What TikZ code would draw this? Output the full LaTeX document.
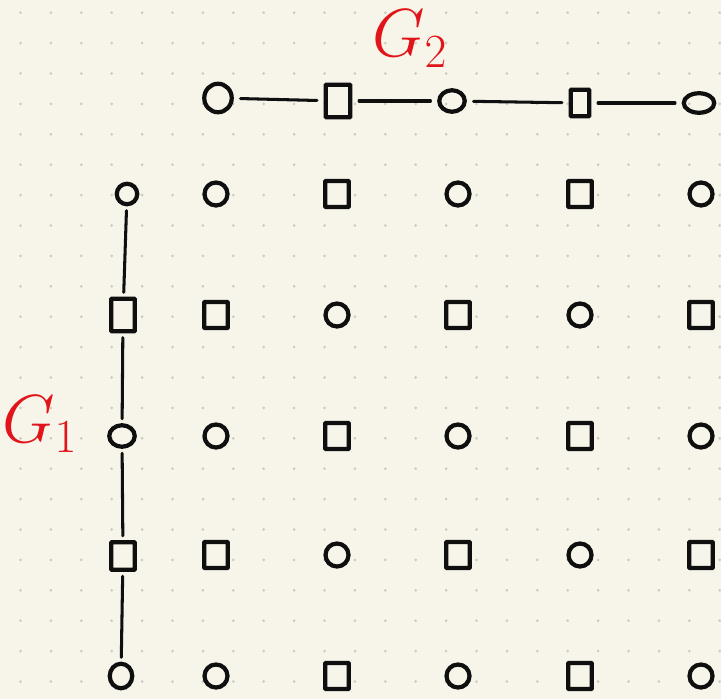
\RequirePackage{fix-cm}
\documentclass[tikz,border=0pt]{standalone}
\usepackage{tikz}
\usetikzlibrary{shapes.geometric}
\definecolor{paper}{RGB}{247,245,234}
\definecolor{dotgrey}{RGB}{205,204,196}
\definecolor{ink}{RGB}{15,15,15}
\definecolor{pen}{RGB}{225,20,25}

\begin{document}
\begin{tikzpicture}[x=0.3mm,y=-0.3mm,
  vc/.style 2 args={ellipse,draw=ink,line width=3.6pt,minimum width=#1*0.3mm,minimum height=#2*0.3mm,inner sep=0pt},
  vs/.style 2 args={rectangle,draw=ink,line width=3.6pt,minimum width=#1*0.3mm,minimum height=#2*0.3mm,inner sep=0pt,rounded corners=0.6pt},
  link/.style={draw=ink,line width=2.6pt,line cap=round,shorten <=1.3mm,shorten >=1.3mm},
  glabel/.style={text=pen,font=\fontsize{58}{60}\selectfont,inner sep=0pt}]
  \fill[paper] (0,0) rectangle (721,699);
  \useasboundingbox (0,0) rectangle (721,699);
  % dotted paper
  \foreach \i in {0,...,23} \foreach \j in {0,...,22} \fill[dotgrey] (20.5+30.4*\i,12.7+30.4*\j) circle[radius=0.45mm];
  % G_2 along the top
  \node[vc={27.5}{28.5}] (g2a) at (218,98) {};
  \node[vs={24.5}{32.5}] (g2b) at (338,101) {};
  \node[vc={25.5}{21.5}] (g2c) at (452,101) {};
  \node[vs={18.5}{26.5}] (g2d) at (580,103) {};
  \node[vc={30.5}{19.5}] (g2e) at (699,103) {};
  \draw[link,shorten <=2mm,shorten >=2mm] (g2a) -- (g2b); \draw[link,shorten <=2mm,shorten >=2mm] (g2b) -- (g2c);
  \draw[link,shorten <=2mm,shorten >=2mm] (g2c) -- (g2d); \draw[link,shorten <=2mm,shorten >=2mm] (g2d) -- (g2e);
  % G_1 down the left
  \node[vc={20.5}{20.5}] (g1a) at (127,194) {};
  \node[vs={23.5}{32.5}] (g1b) at (123,315) {};
  \node[vc={25.5}{21.5}] (g1c) at (122,436) {};
  \node[vs={23.5}{27.5}] (g1d) at (123,556) {};
  \node[vc={22.5}{24.5}] (g1e) at (121,676) {};
  \draw[link] (g1a) -- (g1b); \draw[link] (g1b) -- (g1c);
  \draw[link] (g1c) -- (g1d); \draw[link] (g1d) -- (g1e);
  % product vertices
  \foreach \r/\y in {1/194,2/315,3/436,4/555,5/676} \foreach \c/\x in {1/216,2/337,3/458,4/580,5/701} {
    \pgfmathtruncatemacro{\kind}{mod(\r+\c,2)}
    \ifnum\kind=0 \node[vc={23}{23}] (p\r\c) at (\x,\y) {};
    \else \node[vs={23.5}{26}] (p\r\c) at (\x,\y) {}; \fi
  }
  \node[glabel,anchor=base west] (g2lab) at (372,57) {$G_2$};
  \node[glabel,anchor=base west] (g1lab) at (2,442) {$G_1$};
\end{tikzpicture}
\end{document}
